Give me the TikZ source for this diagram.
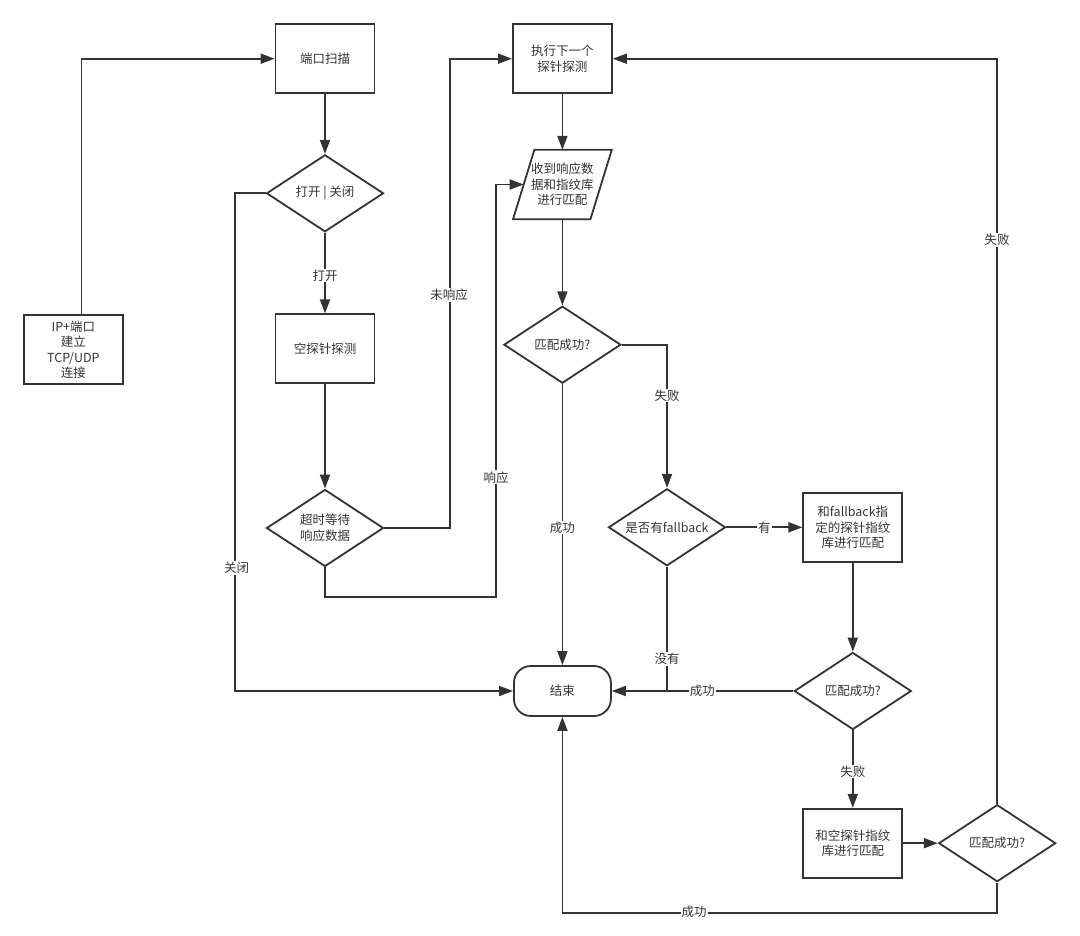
\documentclass[tikz,border=0pt]{standalone}
\usepackage{fontspec}
\setmainfont{Noto Sans CJK SC}
\usetikzlibrary{arrows.meta,shapes.geometric}
\definecolor{ink}{HTML}{333333}
\begin{document}
\begin{tikzpicture}[x=1pt,y=-1pt,
  every node/.style={font=\fontsize{12.5}{15.5}\selectfont, text=ink, align=center},
  box/.style={draw=ink, line width=1.8pt, minimum width=99pt, minimum height=69pt, inner sep=2pt},
  dia/.style={draw=ink, line width=1.8pt, diamond, aspect=1.5, minimum width=117pt, minimum height=77pt, inner sep=0pt},
  term/.style={draw=ink, line width=1.8pt, rounded corners=17pt, minimum width=97pt, minimum height=50pt},
  plainbox/.style={minimum width=77pt, minimum height=69pt, inner sep=0pt},
  conn/.style={draw=ink, line width=1.8pt},
  arr/.style={conn, -{Triangle[length=14pt,width=10pt]}},
  lbl/.style={fill=white, inner sep=1pt},
]
\useasboundingbox (0,0) rectangle (1080,936);

% nodes
\node[box] (scan) at (325,58.7) {端口扫描};
\node[box] (ip) at (73.4,349.7) {IP+端口\\建立\\TCP/UDP\\连接};
\node[dia] (open) at (325,193.3) {打开 | 关闭};
\node[box] (probe0) at (325,348.8) {空探针探测};
\node[dia] (timeout) at (325,528) {超时等待\\响应数据};
\node[box] (next) at (562.4,58.7) {执行下一个\\探针探测};
\node[plainbox] (recv) at (562.4,184.5) {收到响应数\\据和指纹库\\进行匹配};
\draw[conn] ([xshift=-10.65pt]recv.south west) -- ([xshift=10.65pt]recv.north west)
  -- ([xshift=10.65pt]recv.north east) -- ([xshift=-10.65pt]recv.south east) -- cycle;
\node[dia] (m1) at (562.4,344.7) {匹配成功?};
\node[term] (end) at (562.4,691) {结束};
\node[dia] (fb) at (667,527.3) {是否有fallback};
\node[box] (fbbox) at (852.8,527.3) {和fallback指\\定的探针指纹\\库进行匹配};
\node[dia] (m2) at (852.8,691) {匹配成功?};
\node[box] (nullbox) at (852.8,843.2) {和空探针指纹\\库进行匹配};
\node[dia] (m3) at (997.2,843.2) {匹配成功?};

% connectors
\draw[arr] ([xshift=8pt]ip.north) |- (scan.west);
\draw[arr] (scan.south) -- (open.north);
\draw[arr] (open.south) -- (probe0.north);
\draw[arr] (open.west) -- ++(-30.7,0) |- (end.west);
\draw[arr] (probe0.south) -- (timeout.north);
\draw[arr] (timeout.east) -- ++(65.5,0) |- (next.west);
\draw[arr] (timeout.south) -- ++(0,29.5) -- ++(171,0) |- (recv.west);
\draw[arr] (next.south) -- (recv.north);
\draw[arr] (recv.south) -- (m1.north);
\draw[arr] (m1.east) -| (fb.north);
\draw[arr] (m1.south) -- (end.north);
\draw[arr] (fb.east) -- (fbbox.west);
\draw[conn] (fb.south) -- (fb.south |- end.east);
\draw[arr] (fbbox.south) -- (m2.north);
\draw[arr] (m2.west) -- (end.east);
\draw[arr] (m2.south) -- (nullbox.north);
\draw[arr] (nullbox.east) -- (m3.west);
\draw[arr] (m3.north) |- (next.east);
\draw[arr] (m3.south) -- ++(0,30.5) -| (end.south);

% labels
\node[lbl] (l1) at (325,275.7) {打开};
\node[lbl] (l2) at (236.6,568) {关闭};
\node[lbl] (l3) at (449,295) {未响应};
\node[lbl] (l4) at (496,477.3) {响应};
\node[lbl] (l5) at (667,395.7) {失败};
\node[lbl] (l6) at (562.4,527.7) {成功};
\node[lbl] (l7) at (764.3,527.3) {有};
\node[lbl] (l8) at (667,659) {没有};
\node[lbl] (l9) at (702.3,691) {成功};
\node[lbl] (l10) at (852.8,771.7) {失败};
\node[lbl] (l11) at (997.2,240) {失败};
\node[lbl] (l12) at (694,912) {成功};
\end{tikzpicture}
\end{document}
